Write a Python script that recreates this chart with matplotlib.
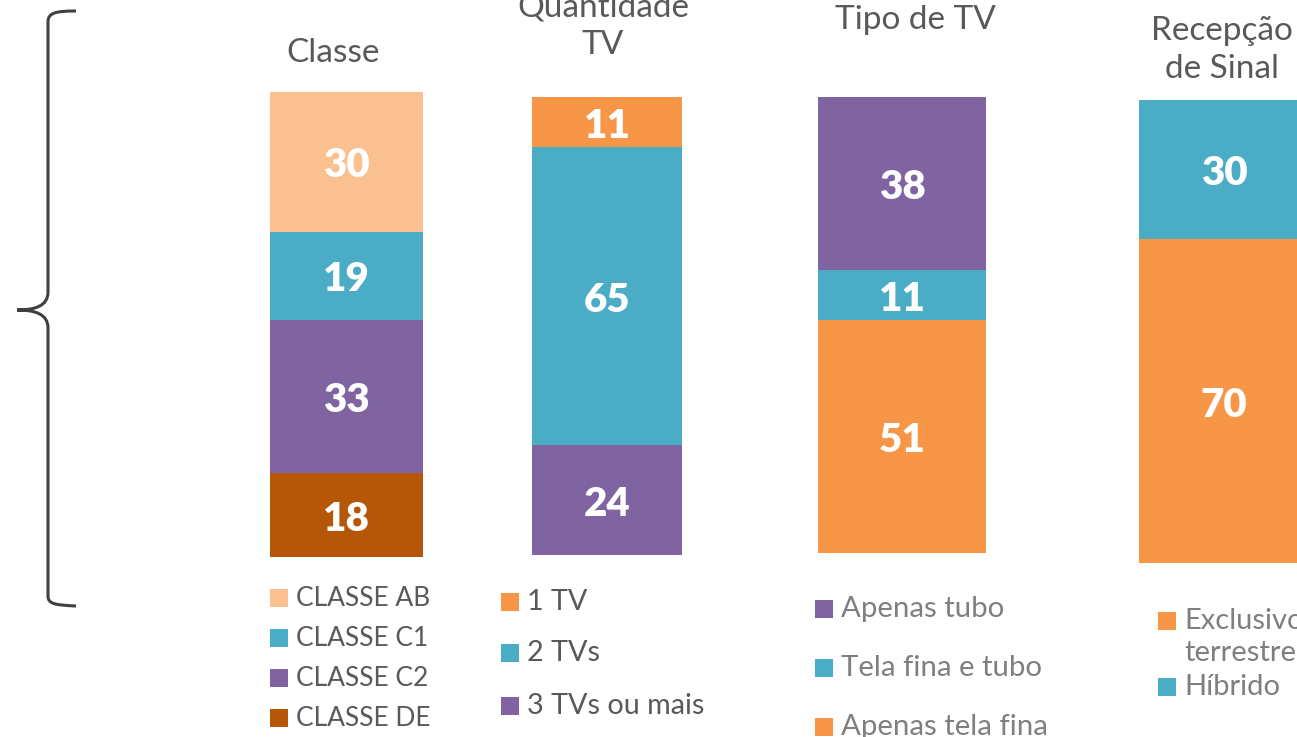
import matplotlib
matplotlib.use("Agg")
import matplotlib.pyplot as plt
from matplotlib.path import Path
from matplotlib.patches import PathPatch, Rectangle

plt.rcParams['font.family'] = ['Lato', 'DejaVu Sans']

# Data: each panel is one stacked bar (percent), listed bottom to top
classe_labels = ["CLASSE DE", "CLASSE C2", "CLASSE C1", "CLASSE AB"]
classe_values = [18, 33, 19, 30]

qtd_labels = ["3 TVs ou mais", "2 TVs", "1 TV"]
qtd_values = [24, 65, 11]

tipo_labels = ["Apenas tela fina", "Tela fina e tubo", "Apenas tubo"]
tipo_values = [51, 11, 38]

recep_labels = ["Exclusivo\nterrestre", "Híbrido"]
recep_values = [70, 30]

titles = ["Classe", "Quantidade\nTV", "Tipo de TV", "Recepção\nde Sinal"]

PEACH = "#FAC090"
TEAL = "#4BACC6"
PURPLE = "#8064A2"
BROWN = "#B65708"
ORANGE = "#F79646"

classe_colors = [BROWN, PURPLE, TEAL, PEACH]
qtd_colors = [PURPLE, TEAL, ORANGE]
tipo_colors = [ORANGE, TEAL, PURPLE]
recep_colors = [ORANGE, TEAL]

W, H = 1297, 737
fig = plt.figure(figsize=(W / 100, H / 100), dpi=100)

def fx(px):
    return px / W

def fy(py):
    return 1 - py / H

def panel(x0, x1, y0, y1, values, colors):
    ax = fig.add_axes([fx(x0), fy(y1), fx(x1 - x0), (y1 - y0) / H])
    bottom = 0
    for v, c in zip(values, colors):
        ax.bar(0, v, width=1.0, bottom=bottom, color=c, linewidth=0)
        ax.annotate(str(v), (0, bottom + v / 2), xytext=(0, -3),
                    textcoords='offset points', ha='center', va='center',
                    color='white', fontsize=29, fontweight='heavy')
        bottom += v
    ax.set_xlim(-0.5, 0.5)
    ax.set_ylim(0, 100)
    ax.axis('off')
    return ax

panel(270, 423, 92, 557, classe_values, classe_colors)
panel(532, 682, 97, 555, qtd_values, qtd_colors)
panel(818, 986, 97, 553, tipo_values, tipo_colors)
panel(1139, 1309, 100, 563, recep_values, recep_colors)

# Titles
TITLE_C = "#595959"
title_pos = [(333, 53), (603, 26), (915, 20), (1222, 50)]
for t, (x, y) in zip(titles, title_pos):
    fig.text(fx(x), fy(y), t, ha='center', va='center', fontsize=24,
             color=TITLE_C, linespacing=1.32)

# Legends (top to bottom as displayed)
def legend(x_marker, rows, labels, colors, text_color, fs):
    for (lab, col, y) in zip(labels, colors, rows):
        fig.patches.append(Rectangle((fx(x_marker), fy(y + 9)), fx(18), 18 / H,
                                     transform=fig.transFigure, color=col,
                                     linewidth=0))
        fig.text(fx(x_marker + 26), fy(y), lab, ha='left', va='center',
                 fontsize=fs, color=text_color)

legend(270, [598, 638, 678, 718], classe_labels[::-1], classe_colors[::-1], "#595959", 19)
legend(501, [602, 653, 706], qtd_labels[::-1], qtd_colors[::-1], "#595959", 20.7)
legend(815, [609, 668, 727], tipo_labels[::-1], tipo_colors[::-1], "#7F7F7F", 21.2)
# Two-line label: marker aligned with the first line
fig.patches.append(Rectangle((fx(1158), fy(630)), fx(18), 18 / H,
                             transform=fig.transFigure, color=recep_colors[0], linewidth=0))
fig.text(fx(1184), fy(621), recep_labels[0].split("\n")[0], ha='left', va='center',
         fontsize=21, color="#7F7F7F")
fig.text(fx(1184), fy(653), recep_labels[0].split("\n")[1], ha='left', va='center',
         fontsize=21, color="#7F7F7F")
fig.patches.append(Rectangle((fx(1158), fy(696)), fx(18), 18 / H,
                             transform=fig.transFigure, color=recep_colors[1], linewidth=0))
fig.text(fx(1184), fy(687), recep_labels[1], ha='left', va='center',
         fontsize=21, color="#7F7F7F")

# Curly brace on the left
pts = [(76, 11), (55, 11), (48, 13), (48, 22),
       (48, 292),
       (48, 306), (35, 310), (17, 310),
       (35, 310), (48, 314), (48, 328),
       (48, 596),
       (48, 604), (55, 605), (76, 606)]
codes = [Path.MOVETO, Path.CURVE4, Path.CURVE4, Path.CURVE4,
         Path.LINETO,
         Path.CURVE4, Path.CURVE4, Path.CURVE4,
         Path.CURVE4, Path.CURVE4, Path.CURVE4,
         Path.LINETO,
         Path.CURVE4, Path.CURVE4, Path.CURVE4]
verts = [(fx(x), fy(y)) for x, y in pts]
fig.patches.append(PathPatch(Path(verts, codes), transform=fig.transFigure,
                             facecolor='none', edgecolor='#404040', linewidth=2.2,
                             capstyle='butt'))

fig.savefig("out.png", dpi=100)
